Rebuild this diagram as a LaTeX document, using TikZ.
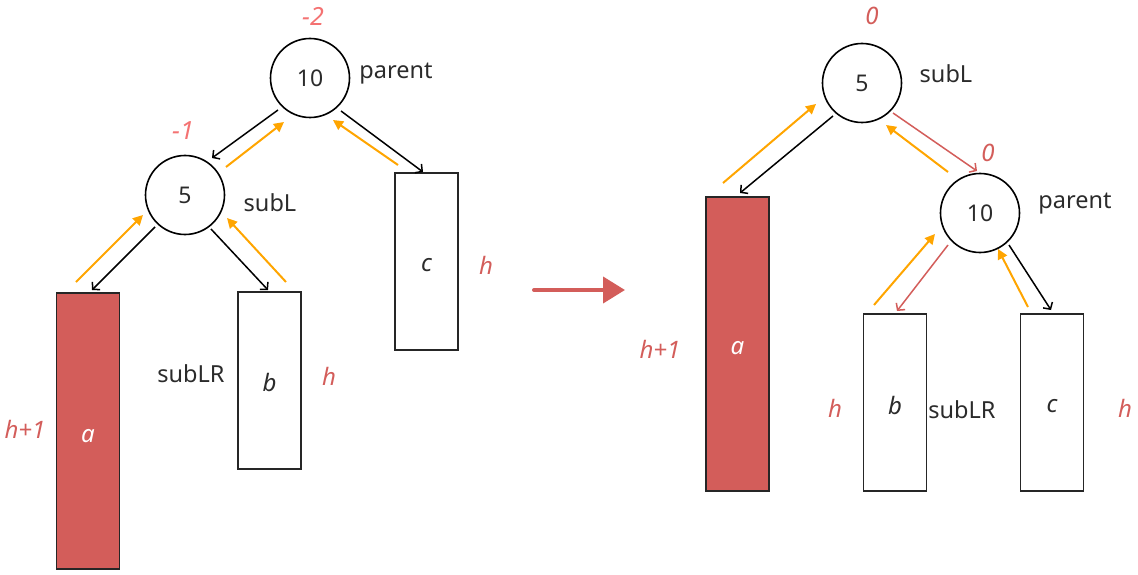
\documentclass[tikz,border=0pt]{standalone}
\usepackage{fontspec}
\setmainfont{Noto Sans}
\usetikzlibrary{arrows.meta}
\definecolor{redf}{HTML}{D35D5A}
\definecolor{pinkl}{HTML}{F47272}
\definecolor{org}{HTML}{FFA500}
\definecolor{txt}{HTML}{2B2B2B}
\newcommand{\lowtxt}[2]{\smash{\raisebox{-#1}{#2}}}
\tikzset{
  circ/.style={circle, draw=black, line width=1.6pt, minimum size=79pt, inner sep=0pt, font=\fontsize{23}{24}\selectfont, text=txt},
  box/.style={rectangle, draw=black!85, line width=1.6pt, minimum width=63pt, inner sep=0pt, font=\fontsize{24}{26}\selectfont\itshape, text=txt},
  lbl/.style={font=\fontsize{23.5}{25}\selectfont, text=txt},
  hl/.style={font=\fontsize{24}{26}\selectfont\itshape, text=redf},
  bf/.style={font=\fontsize{24}{26}\selectfont\itshape, text=redf},
  bfp/.style={font=\fontsize{25}{26}\selectfont\itshape\bfseries, text=pinkl},
  blk/.style={draw=black, line width=1.5pt, -{Straight Barb[length=5pt,width=11pt,line width=1.5pt]}},
  rd/.style={draw=redf, line width=1.5pt, -{Straight Barb[length=5pt,width=11pt,line width=1.5pt]}},
  og/.style={draw=org, line width=2pt, -{Triangle[length=10pt,width=10pt]}},
}
\begin{document}
\begin{tikzpicture}[x=1pt,y=-1pt]
\useasboundingbox (0,0) rectangle (1138,575);
% ---------- left tree ----------
\node[circ] (L10) at (310,78) {10};
\node[circ] (L5) at (185,195) {5};
\node[box, fill=redf, minimum height=276pt, text=white] (La) at (88,431) {\lowtxt{11pt}{a}};
\node[box, minimum height=177pt] (Lb) at (269.5,380.5) {\lowtxt{11pt}{b}};
\node[box, minimum height=177pt] (Lc) at (426.5,261.5) {\lowtxt{10pt}{c}};
\node[lbl] (Lpar) at (396,74) {parent};
\node[lbl] (LsubL) at (270,203) {subL};
\node[lbl] (LsubLR) at (191,374) {subLR};
\node[bfp] (Lbf10) at (313,16) {-2};
\node[bfp] (Lbf5) at (183,131) {-1};
\node[hl] (Lha) at (25,429) {h+1};
\node[hl] (Lhb) at (329,376) {h};
\node[hl] (Lhc) at (486,265) {h};
\draw[blk] (278,110) coordinate (l1s) -- (212,158) coordinate (l1t);
\draw[og] (226,167) coordinate (l2s) -- (284,122) coordinate (l2t);
\draw[blk] (341,111) coordinate (l3s) -- (423,172) coordinate (l3t);
\draw[og] (398,165) coordinate (l4s) -- (333,120) coordinate (l4t);
\draw[blk] (155,227) coordinate (l5s) -- (92,290) coordinate (l5t);
\draw[og] (76,282) coordinate (l6s) -- (143,215) coordinate (l6t);
\draw[blk] (211,229) coordinate (l7s) -- (268,290) coordinate (l7t);
\draw[og] (286,282) coordinate (l8s) -- (227,218) coordinate (l8t);
% ---------- middle arrow ----------
\draw[redf, line width=4pt, line cap=round, -{Triangle[length=22pt,width=26pt]}] (534,290) coordinate (ms) -- (625,290) coordinate (mt);
% ---------- right tree ----------
\node[circ] (R5) at (862,83) {5};
\node[circ] (R10) at (980,213) {10};
\node[box, fill=redf, minimum height=294pt, text=white] (Ra) at (737.5,344) {\lowtxt{10pt}{a}};
\node[box, minimum height=177pt] (Rb) at (895,402.5) {\lowtxt{12pt}{b}};
\node[box, minimum height=177pt] (Rc) at (1052,402.5) {\lowtxt{10pt}{c}};
\node[lbl] (RsubL) at (946,74) {subL};
\node[lbl] (Rpar) at (1075,204) {parent};
\node[lbl] (RsubLR) at (962,410) {subLR};
\node[bf] (Rbf5) at (872,16) {0};
\node[bf] (Rbf10) at (988,153) {0};
\node[hl] (Rha) at (660,349) {h+1};
\node[hl] (Rhb) at (835,408) {h};
\node[hl] (Rhc) at (1125,408) {h};
\draw[og] (723,183) coordinate (r1s) -- (816,104) coordinate (r1t);
\draw[blk] (833,116) coordinate (r2s) -- (740,193) coordinate (r2t);
\draw[rd] (893,113) coordinate (r3s) -- (977,171) coordinate (r3t);
\draw[og] (948,172) coordinate (r4s) -- (886,125) coordinate (r4t);
\draw[og] (874,305) coordinate (r5s) -- (935,234) coordinate (r5t);
\draw[rd] (948,245) coordinate (r6s) -- (897,311) coordinate (r6t);
\draw[og] (1028,307) coordinate (r7s) -- (998,249) coordinate (r7t);
\draw[blk] (1009,245) coordinate (r8s) -- (1051,310) coordinate (r8t);
\end{tikzpicture}
\end{document}
